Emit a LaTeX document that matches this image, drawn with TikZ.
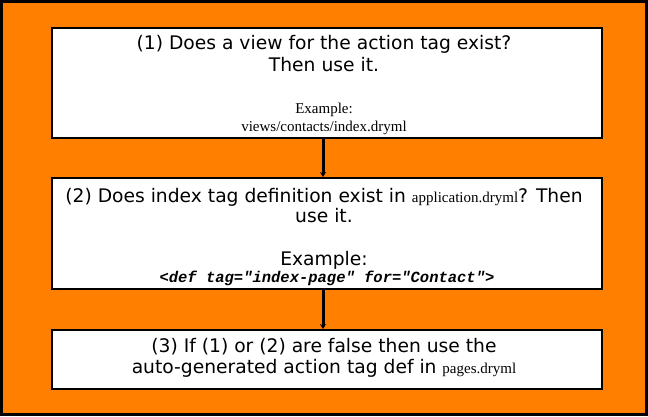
\documentclass[tikz,border=0pt]{standalone}
\usepackage{fontspec}
\usetikzlibrary{arrows.meta}
\setmainfont{DejaVu Sans}
\newfontfamily\serifx{Liberation Serif}
\newfontfamily\monox{Liberation Mono}
\definecolor{bgorange}{HTML}{FF8000}
\newcommand{\serfont}{\serifx\fontsize{15}{18}\selectfont}
\begin{document}
\begin{tikzpicture}[x=1pt,y=1pt,
  stepbox/.style={draw=black,line width=2pt,fill=white,inner sep=0pt},
  main/.style={font=\fontsize{18.7}{22}\selectfont,inner sep=0pt,anchor=base},
  ser/.style={font=\serfont,inner sep=0pt,anchor=base},
  conn/.style={line width=3pt,-{Stealth[length=5pt,width=6pt]}}]
\useasboundingbox (0,0) rectangle (648,416);
\draw[fill=bgorange,line width=3pt] (1.5,1.5) rectangle (646.5,414.5);
% boxes
\node[stepbox,minimum width=550pt,minimum height=110pt] (b1) at (327,333) {};
\node[stepbox,minimum width=550pt,minimum height=111pt] (b2) at (327,182.5) {};
\node[stepbox,minimum width=550pt,minimum height=59pt] (b3) at (327,56.5) {};
% box 1 text
\node[main] (t1a) at (324,366) {(1) Does a view for the action tag exist?};
\node[main] (t1b) at (324,344) {Then use it.};
\node[ser] (t1c) at (324,303) {Example:};
\node[ser] (t1d) at (324,285) {views/contacts/index.dryml};
% box 2 text
\node[main] (t2a) at (324,214) {(2) Does index tag definition exist in {\serfont application.dryml}? Then};
\node[main] (t2b) at (324,194) {use it.};
\node[main] (t2c) at (324,151) {Example:};
\node[inner sep=0pt,anchor=base,font=\monox\bfseries\itshape\fontsize{15.5}{18}\selectfont] (t2d) at (327,134) {<def tag="index-page" for="Contact">};
% box 3 text
\node[main] (t3a) at (324,64) {(3) If (1) or (2) are false then use the};
\node[main] (t3b) at (324,43) {auto-generated action tag def in {\serfont pages.dryml}};
% connectors
\draw[conn] ([xshift=-4pt]b1.south) -- ([xshift=-4pt]b2.north);
\draw[conn] ([xshift=-4pt]b2.south) -- ([xshift=-4pt]b3.north);
\end{tikzpicture}
\end{document}
